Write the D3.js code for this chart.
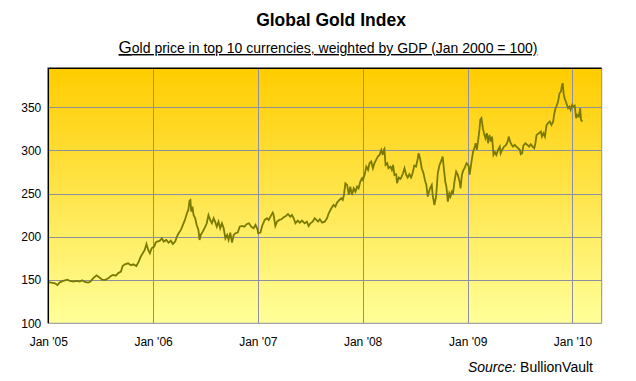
<!DOCTYPE html>
<html>
<head>
<meta charset="utf-8">
<script src="https://cdn.jsdelivr.net/npm/d3@7"></script>
<style>
  body { margin: 0; background: #fff; }
  text { font-family: "Liberation Sans", Arial, sans-serif; fill: #000; }
</style>
</head>
<body>
<div id="chart"></div>
<script>
// Global Gold Index, Jan 2000 = 100
const dates = [
  "2005-01-03","2005-01-12","2005-01-24","2005-02-02","2005-02-10","2005-02-22","2005-03-09","2005-03-17",
  "2005-03-29","2005-04-09","2005-04-21","2005-04-29","2005-05-08","2005-05-20","2005-05-28","2005-06-06",
  "2005-06-18","2005-06-27","2005-07-08","2005-07-17","2005-07-29","2005-08-07","2005-08-15","2005-08-24",
  "2005-09-01","2005-09-11","2005-09-17","2005-09-25","2005-10-06","2005-10-16","2005-10-24","2005-11-04",
  "2005-11-12","2005-11-19","2005-11-27","2005-12-03","2005-12-09","2005-12-15","2005-12-21","2005-12-27",
  "2006-01-05","2006-01-10","2006-01-15","2006-01-24","2006-02-01","2006-02-07","2006-02-16","2006-02-24",
  "2006-03-04","2006-03-11","2006-03-19","2006-03-25","2006-03-31","2006-04-08","2006-04-15","2006-04-22",
  "2006-04-29","2006-05-04","2006-05-08","2006-05-11","2006-05-14","2006-05-18","2006-05-22","2006-05-28",
  "2006-06-02","2006-06-08","2006-06-12","2006-06-16","2006-06-23","2006-07-02","2006-07-07","2006-07-13",
  "2006-07-19","2006-07-25","2006-07-31","2006-08-05","2006-08-11","2006-08-17","2006-08-23","2006-08-29",
  "2006-09-04","2006-09-10","2006-09-16","2006-09-21","2006-09-27","2006-10-03","2006-10-09","2006-10-15",
  "2006-10-23","2006-10-30","2006-11-07","2006-11-15","2006-11-24","2006-12-01","2006-12-09","2006-12-17",
  "2006-12-24","2006-12-31",
  "2007-01-02","2007-01-10","2007-01-16","2007-01-25","2007-02-02","2007-02-08","2007-02-14","2007-02-22",
  "2007-02-25","2007-03-03","2007-03-09","2007-03-17","2007-03-24","2007-04-01","2007-04-09","2007-04-16",
  "2007-04-24","2007-04-30","2007-05-06","2007-05-12","2007-05-20","2007-05-27","2007-06-04","2007-06-13",
  "2007-06-21","2007-06-27","2007-07-03","2007-07-11","2007-07-18","2007-07-24","2007-07-30","2007-08-05",
  "2007-08-13","2007-08-22","2007-08-30","2007-09-05","2007-09-14","2007-09-22","2007-09-28","2007-10-04",
  "2007-10-12","2007-10-19","2007-10-24","2007-10-28","2007-11-02","2007-11-08","2007-11-14","2007-11-19",
  "2007-11-25","2007-12-01","2007-12-07","2007-12-13","2007-12-18","2007-12-24","2007-12-30",
  "2008-01-02","2008-01-08","2008-01-14","2008-01-20","2008-01-25","2008-01-31","2008-02-06","2008-02-11",
  "2008-02-17","2008-02-23","2008-02-29","2008-03-06","2008-03-11","2008-03-15","2008-03-17","2008-03-21",
  "2008-03-27","2008-03-31","2008-04-07","2008-04-12","2008-04-16","2008-04-21","2008-04-27","2008-04-30",
  "2008-05-06","2008-05-12","2008-05-16","2008-05-21","2008-05-26","2008-06-01","2008-06-06","2008-06-12",
  "2008-06-18","2008-06-23","2008-06-29","2008-07-05","2008-07-11","2008-07-14","2008-07-19","2008-07-25",
  "2008-07-31","2008-08-05","2008-08-10","2008-08-15","2008-08-18","2008-08-23","2008-08-29","2008-09-01",
  "2008-09-07","2008-09-13","2008-09-19","2008-09-25","2008-09-30","2008-10-06","2008-10-10","2008-10-15",
  "2008-10-19","2008-10-24","2008-10-29","2008-11-02","2008-11-07","2008-11-11","2008-11-16","2008-11-22",
  "2008-11-28","2008-12-04","2008-12-07","2008-12-12","2008-12-16","2008-12-21","2008-12-28",
  "2009-01-04","2009-01-08","2009-01-14","2009-01-20","2009-01-26","2009-01-29","2009-02-02","2009-02-06",
  "2009-02-11","2009-02-14","2009-02-18","2009-02-23","2009-02-27","2009-03-04","2009-03-09","2009-03-13",
  "2009-03-18","2009-03-23","2009-03-27","2009-04-01","2009-04-06","2009-04-11","2009-04-17","2009-04-23",
  "2009-04-26","2009-05-01","2009-05-08","2009-05-15","2009-05-20","2009-05-24","2009-05-29","2009-06-03",
  "2009-06-08","2009-06-14","2009-06-20","2009-06-26","2009-07-02","2009-07-05","2009-07-10","2009-07-14",
  "2009-07-21","2009-07-28","2009-08-03","2009-08-09","2009-08-15","2009-08-21","2009-08-25","2009-08-29",
  "2009-09-06","2009-09-13","2009-09-17","2009-09-22","2009-09-27","2009-10-03","2009-10-08","2009-10-14",
  "2009-10-20","2009-10-26","2009-10-29","2009-11-03","2009-11-06","2009-11-12","2009-11-17","2009-11-22",
  "2009-11-26","2009-11-28","2009-12-02","2009-12-05","2009-12-11","2009-12-17","2009-12-22","2009-12-26",
  "2009-12-31","2010-01-05","2010-01-09","2010-01-14","2010-01-18","2010-01-23","2010-01-28","2010-01-31",
  "2010-02-05"
];
const values = [
  147.4,147.0,146.3,144.3,147.4,149.0,150.5,149.0,
  148.2,149.0,148.2,149.7,147.8,147.0,148.2,152.0,
  155.5,153.2,150.5,150.1,152.0,154.7,155.9,155.1,
  157.8,159.8,166.3,168.2,169.4,167.1,168.2,166.3,
  171.3,177.1,181.7,184.8,191.8,184.8,181.0,186.8,
  188.7,193.3,194.5,195.3,198.4,194.5,196.4,193.3,
  195.6,191.8,194.5,200.3,204.2,208.0,213.8,219.6,
  227.3,231.1,241.9,242.7,229.2,235.0,225.3,221.5,
  213.8,208.0,196.4,202.2,206.1,211.8,215.7,225.3,
  219.6,215.7,221.5,217.6,211.8,217.6,209.9,215.7,
  209.9,198.3,202.2,196.4,204.9,193.3,202.2,204.2,
  204.9,211.8,212.6,211.8,214.9,215.7,211.8,209.9,
  213.8,208.8,
  204.2,204.9,212.6,219.6,221.5,219.6,223.4,228.0,
  225.3,212.6,217.6,219.6,220.3,222.7,224.2,226.5,
  223.4,225.3,221.5,215.7,218.8,216.4,218.8,215.7,
  217.6,212.6,215.7,217.6,221.5,219.6,217.6,220.3,
  216.4,217.6,221.5,227.3,233.1,236.9,235.0,239.7,
  242.7,244.6,242.7,248.5,262.0,260.1,248.5,258.1,
  248.5,256.2,252.3,258.1,256.2,263.9,267.8,
  265.9,271.6,281.3,277.4,285.2,287.1,279.4,285.2,
  289.0,292.9,294.8,300.6,294.8,300.6,301.7,283.2,
  285.2,279.4,281.3,277.4,283.2,271.6,272.4,262.0,
  268.6,267.0,269.7,273.6,279.4,271.6,268.6,272.4,
  268.6,273.6,282.5,281.3,290.2,296.7,290.9,279.4,
  273.6,265.9,260.1,246.6,250.4,256.2,260.1,248.5,
  236.9,246.6,273.6,283.2,287.1,292.9,279.4,263.9,
  258.1,240.8,250.4,246.6,252.3,250.4,263.9,275.5,
  271.6,263.9,256.2,271.6,276.3,279.4,285.2,
  282.5,272.0,286.3,298.6,304.4,308.3,300.6,310.2,
  323.7,335.3,337.3,325.7,319.9,314.1,319.9,308.3,
  317.9,310.2,316.0,294.8,297.9,294.8,300.6,304.4,
  296.7,300.6,304.4,306.4,310.2,316.0,310.2,306.4,
  304.4,306.4,304.4,302.5,300.6,295.6,296.7,305.6,
  308.3,306.4,304.4,307.2,304.4,302.5,308.3,317.9,
  319.9,321.8,316.0,319.9,316.0,329.5,331.5,333.4,
  329.5,333.4,341.1,348.8,350.7,356.5,366.1,368.1,
  375.8,377.8,364.2,360.4,354.6,348.8,350.7,346.9,
  352.7,350.7,351.8,337.3,341.1,339.2,348.8,335.3,
  333.4
];
const yTicks = [100, 150, 200, 250, 300, 350];
const xTicks = ["2005-01-01","2006-01-01","2007-01-01","2008-01-01","2009-01-01","2010-01-01"];

const width = 636, height = 381;
const plotL = 48.3, plotR = 601.7, plotT = 68.3, plotB = 323.3;
const parse = d3.timeParse("%Y-%m-%d");

const data = dates.map((d, i) => ({ date: parse(d), value: values[i] }));

const x = d3.scaleTime()
  .domain([parse("2005-01-01"), parse("2010-04-13")])
  .range([plotL, plotR]);
const y = d3.scaleLinear()
  .domain([100, 395])
  .range([plotB, plotT]);

const svg = d3.select("#chart").append("svg")
  .attr("width", width)
  .attr("height", height);

const grad = svg.append("defs").append("linearGradient")
  .attr("id", "bg")
  .attr("x1", 0).attr("y1", 0).attr("x2", 0).attr("y2", 1);
grad.append("stop").attr("offset", "0%").attr("stop-color", "#ffcc00");
grad.append("stop").attr("offset", "100%").attr("stop-color", "#ffff99");

svg.append("rect")
  .attr("x", plotL).attr("y", plotT)
  .attr("width", plotR - plotL).attr("height", plotB - plotT)
  .attr("fill", "url(#bg)");

// grid
const gridColor = "#8e8e9e";
svg.append("g").selectAll("line")
  .data(yTicks.slice(1))
  .join("line")
  .attr("x1", plotL).attr("x2", plotR)
  .attr("y1", d => Math.round(y(d)) + 0.5).attr("y2", d => Math.round(y(d)) + 0.5)
  .attr("stroke", gridColor);
svg.append("g").selectAll("line")
  .data(xTicks.slice(1).map(parse))
  .join("line")
  .attr("x1", d => Math.round(x(d)) + 0.5).attr("x2", d => Math.round(x(d)) + 0.5)
  .attr("y1", plotT).attr("y2", plotB)
  .attr("stroke", gridColor);

// plot border: right/bottom grey, top/left black
svg.append("path")
  .attr("d", `M${plotL},${plotB}H${plotR}V${plotT}`)
  .attr("fill", "none").attr("stroke", gridColor);
svg.append("path")
  .attr("d", `M${plotL},${plotB}V${plotT}H${plotR}`)
  .attr("fill", "none").attr("stroke", "#000").attr("stroke-width", 1.5);

// series
const line = d3.line()
  .x(d => x(d.date))
  .y(d => y(d.value));
svg.append("path")
  .datum(data)
  .attr("d", line)
  .attr("fill", "none")
  .attr("stroke", "#7a7a00")
  .attr("stroke-width", 1.8);

// axis labels
const yAxis = d3.axisLeft(y).tickValues(yTicks).tickSize(0).tickPadding(7);
svg.append("g")
  .attr("transform", `translate(${plotL},0)`)
  .call(yAxis)
  .call(g => g.select(".domain").remove())
  .call(g => g.selectAll("text").attr("font-size", 12).attr("font-family", null));

const xAxis = d3.axisBottom(x).tickValues(xTicks.map(parse))
  .tickFormat(d3.timeFormat("%b '%y")).tickSize(0).tickPadding(14);
svg.append("g")
  .attr("transform", `translate(0,${plotB})`)
  .call(xAxis)
  .call(g => g.select(".domain").remove())
  .call(g => g.selectAll("text").attr("font-size", 12).attr("font-family", null));
svg.selectAll(".tick text").attr("fill", "#000");

// titles
svg.append("text")
  .attr("x", 331).attr("y", 26)
  .attr("text-anchor", "middle")
  .attr("font-size", 17.5).attr("font-weight", "bold")
  .text("Global Gold Index");

const sub = svg.append("text")
  .attr("x", 328).attr("y", 53)
  .attr("text-anchor", "middle")
  .attr("font-size", 14)
  .style("text-decoration", "underline");
sub.append("tspan").attr("font-size", 17).text("G");
sub.append("tspan").text("old price in top 10 currencies, weighted by GDP (Jan 2000 = 100)");

const src = svg.append("text")
  .attr("x", 593).attr("y", 372)
  .attr("text-anchor", "end")
  .attr("font-size", 14);
src.append("tspan").attr("font-style", "italic").text("Source:");
src.append("tspan").text(" BullionVault");
</script>
</body>
</html>
